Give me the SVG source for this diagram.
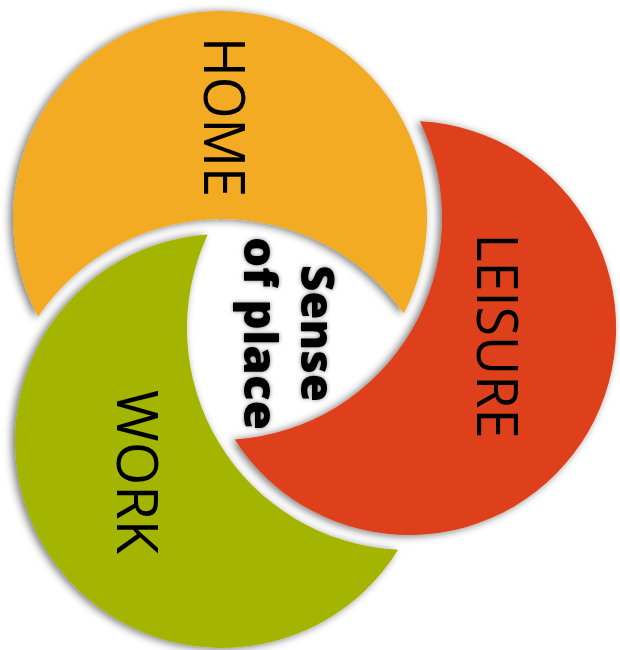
<svg xmlns="http://www.w3.org/2000/svg" width="620" height="650" viewBox="0 0 620 650">
  <defs>
    <filter id="shadow" x="-10%" y="-10%" width="120%" height="120%">
      <feGaussianBlur in="SourceAlpha" stdDeviation="4" result="b"/>
      <feOffset in="b" dx="-3" dy="1" result="o"/>
      <feComponentTransfer in="o" result="s">
        <feFuncA type="linear" slope="0.55"/>
      </feComponentTransfer>
      <feMerge>
        <feMergeNode in="s"/>
        <feMergeNode in="SourceGraphic"/>
      </feMerge>
    </filter>
    <filter id="textglow" x="-20%" y="-20%" width="140%" height="140%">
      <feGaussianBlur in="SourceAlpha" stdDeviation="2" result="b"/>
      <feComponentTransfer in="b" result="s">
        <feFuncA type="linear" slope="0.5"/>
      </feComponentTransfer>
      <feMerge>
        <feMergeNode in="s"/>
        <feMergeNode in="SourceGraphic"/>
      </feMerge>
    </filter>
  </defs>
  <style>
    .label { font-family: "Open Sans", "Liberation Sans", sans-serif; font-size: 56px; fill: #000; text-anchor: middle; }
    .center { font-family: "Open Sans", "Liberation Sans", sans-serif; font-size: 46px; font-weight: 800; fill: #000; text-anchor: middle; }
  </style>
  <rect width="620" height="650" fill="#ffffff"/>

  <g id="node-home">
    <path d="M 403.7 313.5 A 207 207 0 1 0 38.1 316.7 A 222 222 0 0 1 403.7 313.5 Z" fill="#F2AB20" filter="url(#shadow)"/>
    <text class="label" transform="translate(204,117) rotate(90)" textLength="160" lengthAdjust="spacingAndGlyphs">HOME</text>
  </g>

  <g id="node-leisure">
    <path d="M 419.9 121.3 A 207 207 0 1 1 234.7 439.5 A 222 222 0 0 0 419.9 121.3 Z" fill="#DE401A" filter="url(#shadow)"/>
    <text class="label" transform="translate(477,336) rotate(90)" textLength="205" lengthAdjust="spacingAndGlyphs">LEISURE</text>
  </g>

  <g id="node-work">
    <path d="M 207.7 234.4 A 207 207 0 1 0 398.1 549.8 A 222 222 0 0 1 207.7 234.4 Z" fill="#A3B500" filter="url(#shadow)"/>
    <text class="label" transform="translate(117,472) rotate(90)" textLength="164" lengthAdjust="spacingAndGlyphs">WORK</text>
  </g>

  <g id="node-center" filter="url(#textglow)">
    <text class="center" transform="translate(301,333.5) rotate(90)" textLength="137" lengthAdjust="spacingAndGlyphs">Sense</text>
    <text class="center" transform="translate(244,333.5) rotate(90)" textLength="193" lengthAdjust="spacingAndGlyphs">of place</text>
  </g>
</svg>
